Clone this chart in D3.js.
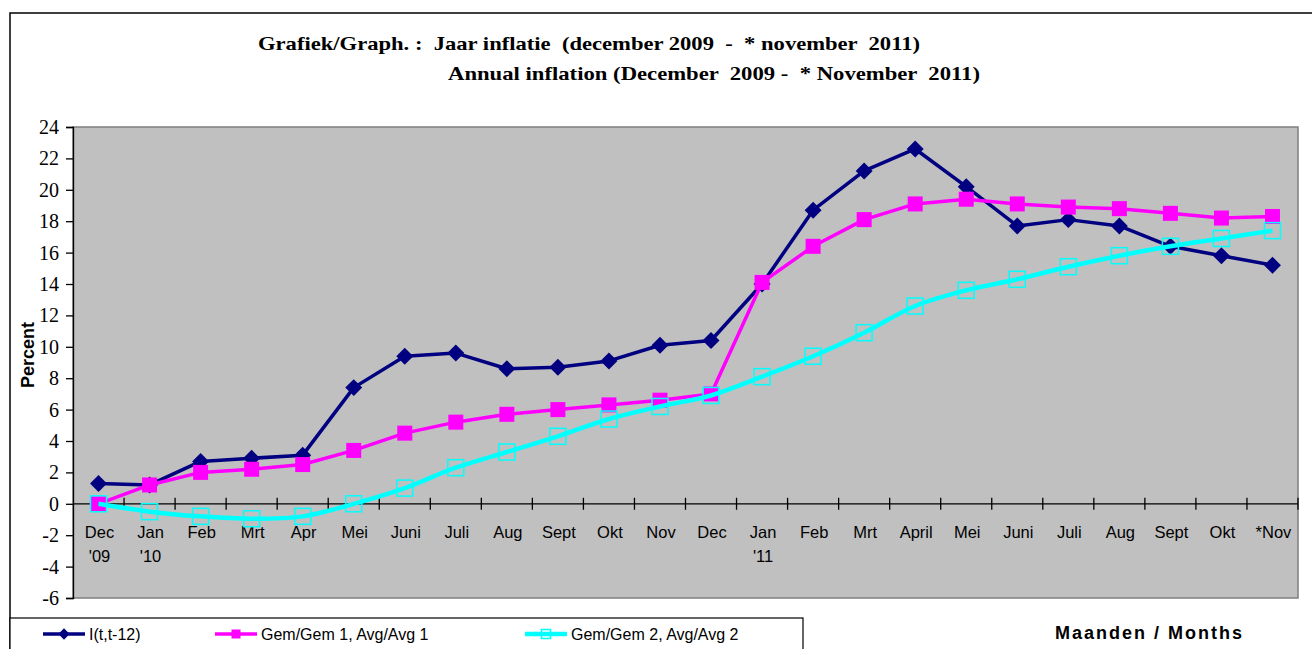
<!DOCTYPE html>
<html>
<head>
<meta charset="utf-8">
<script src="https://cdn.jsdelivr.net/npm/d3@7"></script>
<style>
  body { margin: 0; background: #fff; }
  svg { display: block; }
</style>
</head>
<body>
<svg id="screen"></svg>
<script>
// chart data
const months = ["Dec|'09", "Jan|'10", "Feb", "Mrt", "Apr", "Mei", "Juni", "Juli", "Aug", "Sept", "Okt", "Nov",
                "Dec", "Jan|'11", "Feb", "Mrt", "April", "Mei", "Juni", "Juli", "Aug", "Sept", "Okt", "*Nov"]
const inflation = [1.3, 1.2, 2.7, 2.9, 3.1, 7.4, 9.4, 9.6, 8.6, 8.7, 9.1, 10.1,
                   10.4, 14.0, 18.7, 21.2, 22.6, 20.2, 17.7, 18.1, 17.7, 16.4, 15.8, 15.2]
const avg1 = [0.0, 1.2, 2.0, 2.2, 2.5, 3.4, 4.5, 5.2, 5.7, 6.0, 6.3, 6.6,
              7.0, 14.1, 16.4, 18.1, 19.1, 19.4, 19.1, 18.9, 18.8, 18.5, 18.2, 18.3]
const avg2 = [0.0, -0.5, -0.8, -0.95, -0.8, 0.0, 1.0, 2.3, 3.3, 4.3, 5.4, 6.2,
              6.9, 8.1, 9.4, 10.9, 12.6, 13.6, 14.3, 15.1, 15.8, 16.4, 16.9, 17.4]
const yTicks = d3.range(-6, 25, 2)
const seriesNames = ["I(t,t-12)", "Gem/Gem 1, Avg/Avg 1", "Gem/Gem 2, Avg/Avg 2"]

// canvas
let svg = {width: 1312, height: 649}
let plot = {left: 73, top: 127, right: 1298, bottom: 598}

let frame = d3.select('#screen')
  .attr("width", svg.width)
  .attr("height", svg.height)

// outer frame of the chart (left and top edge visible)
frame.append("path")
  .attr("d", "M10,649 V13 H1312")
  .attr("fill", "none")
  .attr("stroke", "#000")
  .attr("stroke-width", 1.5)

// titles
frame.append("text")
  .attr("x", 258).attr("y", 50)
  .style("font-family", "'Liberation Serif', 'Times New Roman', serif")
  .attr("font-weight", "bold").attr("font-size", 19)
  .attr("textLength", 662).attr("lengthAdjust", "spacingAndGlyphs")
  .attr("xml:space", "preserve")
  .text("Grafiek/Graph. :  Jaar inflatie  (december 2009  -  * november  2011)")

frame.append("text")
  .attr("x", 448).attr("y", 80)
  .style("font-family", "'Liberation Serif', 'Times New Roman', serif")
  .attr("font-weight", "bold").attr("font-size", 19)
  .attr("textLength", 532).attr("lengthAdjust", "spacingAndGlyphs")
  .attr("xml:space", "preserve")
  .text("Annual inflation (December  2009 -  * November  2011)")

// scales
let x = d3.scaleBand()
  .domain(d3.range(months.length))
  .range([plot.left, plot.right])
let cx = i => x(i) + x.bandwidth() / 2
let y = d3.scaleLinear()
  .domain([-6, 24])
  .range([plot.bottom, plot.top])

// plot area
frame.append("rect")
  .attr("x", plot.left).attr("y", plot.top)
  .attr("width", plot.right - plot.left)
  .attr("height", plot.bottom - plot.top)
  .attr("fill", "#c0c0c0")
  .attr("stroke", "#7f7f7f")
  .attr("stroke-width", 1.5)

// y axis
let yAxis = frame.append("g")
  .attr("transform", "translate(" + plot.left + ",0)")
  .call(d3.axisLeft(y).tickValues(yTicks).tickSize(7).tickPadding(7).tickFormat(d3.format("d")))
yAxis.selectAll("path, line").attr("stroke", "#000").attr("stroke-width", 1.3)
yAxis.selectAll("text")
  .style("font-family", "'Liberation Serif', 'Times New Roman', serif")
  .style("font-size", "20px")
  .attr("fill", "#000")
  .text(d => d < 0 ? "-" + Math.abs(d) : d)

frame.append("text")
  .attr("transform", "translate(34,355) rotate(-90)")
  .attr("text-anchor", "middle")
  .style("font-family", "'Liberation Sans', Arial, sans-serif")
  .attr("font-weight", "bold").attr("font-size", 18)
  .text("Percent")

// x axis at zero with ticks between the months
let y0 = y(0)
frame.append("line")
  .attr("x1", plot.left).attr("x2", plot.right)
  .attr("y1", y0).attr("y2", y0)
  .attr("stroke", "#000").attr("stroke-width", 1.3)
frame.selectAll(".xtick")
  .data(d3.range(1, months.length + 1))
  .enter()
  .append("line")
  .attr("class", "xtick")
  .attr("x1", i => plot.left + i * x.bandwidth())
  .attr("x2", i => plot.left + i * x.bandwidth())
  .attr("y1", y0 - 6).attr("y2", y0 + 6)
  .attr("stroke", "#000").attr("stroke-width", 1.3)

let xLabels = frame.selectAll(".xlabel")
  .data(months)
  .enter()
  .append("text")
  .attr("class", "xlabel")
  .style("font-family", "'Liberation Sans', Arial, sans-serif")
  .attr("font-size", 16.5)
  .attr("text-anchor", "middle")
xLabels.each(function(d, i) {
  let parts = d.split("|")
  let t = d3.select(this)
  parts.forEach(function(p, k) {
    t.append("tspan")
      .attr("x", cx(i) + 1)
      .attr("y", y0 + 34 + k * 24)
      .text(p)
  })
})

// markers
function drawMarker(g, kind, px, py, s) {
  if (kind == "diamond") {
    g.append("path")
      .attr("d", d3.symbol().type(d3.symbolSquare).size(s * s)())
      .attr("transform", "translate(" + px + "," + py + ") rotate(45)")
      .attr("fill", "#000080")
  } else if (kind == "square") {
    g.append("rect")
      .attr("x", px - s / 2).attr("y", py - s / 2)
      .attr("width", s).attr("height", s)
      .attr("fill", "#ff00ff")
  } else {
    g.append("rect")
      .attr("x", px - s / 2).attr("y", py - s / 2)
      .attr("width", s).attr("height", s)
      .attr("fill", "none")
      .attr("stroke", "#00ffff")
      .attr("stroke-width", 1.5)
  }
}

let series = [
  {values: inflation, color: "#000080", width: 3.5, kind: "diamond", size: 12, curve: d3.curveLinear},
  {values: avg1, color: "#ff00ff", width: 3.5, kind: "square", size: 15, curve: d3.curveLinear},
  {values: avg2, color: "#00ffff", width: 4.5, kind: "open", size: 16, curve: d3.curveCatmullRom.alpha(0.5)}
]

series.forEach(function(s) {
  let g = frame.append("g")
  let line = d3.line()
    .x((d, i) => cx(i))
    .y(d => y(d))
    .curve(s.curve)
  g.append("path")
    .datum(s.values)
    .attr("d", line)
    .attr("fill", "none")
    .attr("stroke", s.color)
    .attr("stroke-width", s.width)
    .attr("stroke-linejoin", "round")
  s.values.forEach(function(v, i) {
    drawMarker(g, s.kind, cx(i), y(v), s.size)
  })
})

// legend
frame.append("rect")
  .attr("x", 10).attr("y", 618)
  .attr("width", 793).attr("height", 40)
  .attr("fill", "#fff")
  .attr("stroke", "#000").attr("stroke-width", 1.2)

let legendX = [43, 215, 525]
series.forEach(function(s, k) {
  let g = frame.append("g")
  let lx = legendX[k], ly = 634
  g.append("line")
    .attr("x1", lx).attr("x2", lx + 42)
    .attr("y1", ly).attr("y2", ly)
    .attr("stroke", s.color).attr("stroke-width", s.width)
  drawMarker(g, s.kind, lx + 21, ly, s.kind == "diamond" ? 8 : 9)
  g.append("text")
    .attr("x", lx + 46).attr("y", ly + 6)
    .style("font-family", "'Liberation Sans', Arial, sans-serif")
    .attr("font-size", 16)
    .text(seriesNames[k])
})

frame.append("text")
  .attr("x", 1055).attr("y", 639)
  .style("font-family", "'Liberation Sans', Arial, sans-serif")
  .attr("font-weight", "bold").attr("font-size", 18)
  .attr("textLength", 187).attr("lengthAdjust", "spacing")
  .text("Maanden / Months")
</script>
</body>
</html>
